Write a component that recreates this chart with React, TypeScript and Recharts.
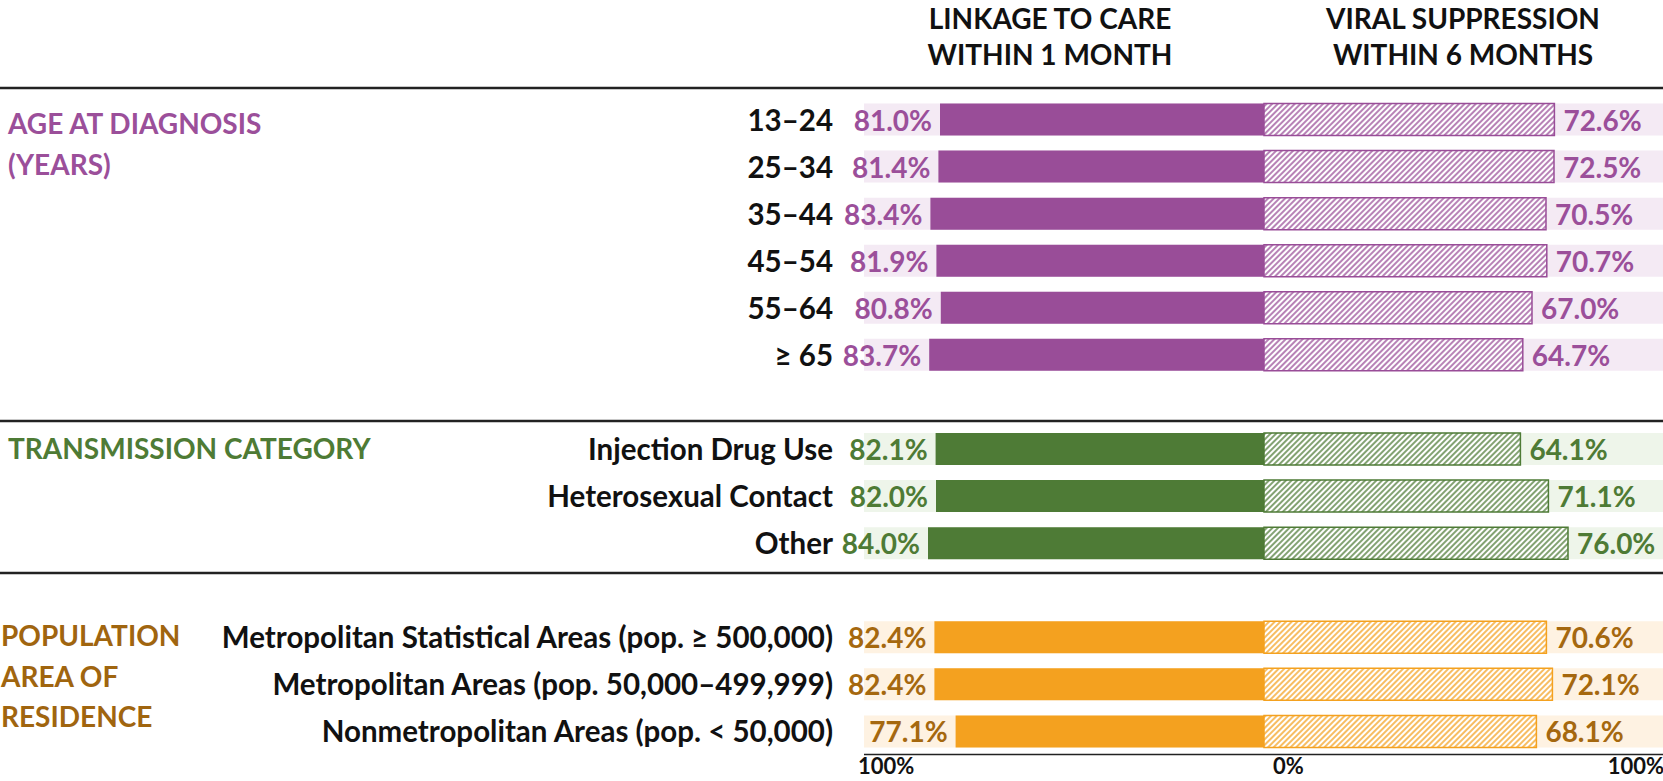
import { BarChart, Bar, XAxis, YAxis, Cell, LabelList } from "recharts";

// ---- data ----
const ageGroups = ["13–24", "25–34", "35–44", "45–54", "55–64", "≥ 65"];
const ageLinkage = [81.0, 81.4, 83.4, 81.9, 80.8, 83.7];
const ageSuppression = [72.6, 72.5, 70.5, 70.7, 67.0, 64.7];

const transmissionGroups = ["Injection Drug Use", "Heterosexual Contact", "Other"];
const transmissionLinkage = [82.1, 82.0, 84.0];
const transmissionSuppression = [64.1, 71.1, 76.0];

const areaGroups = [
  "Metropolitan Statistical Areas (pop. ≥ 500,000)",
  "Metropolitan Areas (pop. 50,000–499,999)",
  "Nonmetropolitan Areas (pop. < 50,000)",
];
const areaLinkage = [82.4, 82.4, 77.1];
const areaSuppression = [70.6, 72.1, 68.1];

const axisTicks = [-100, 0, 100];

const palettes = [
  { bar: "#994D98", band: "#F4EAF4", text: "#9B4F9A" },
  { bar: "#4E7B36", band: "#EEF5EA", text: "#4E7B35" },
  { bar: "#F4A11F", band: "#FEF2E2", text: "#A5680F" },
];

const FONT = "Lato, 'Open Sans', sans-serif";

interface Row {
  name: string;
  label: string;
  section: number;
  band: [number, number] | null;
  link: [number, number] | null;
  supp: [number, number] | null;
  linkLabel: string | null;
  suppLabel: string | null;
}

const sections = [
  { groups: ageGroups, link: ageLinkage, supp: ageSuppression },
  { groups: transmissionGroups, link: transmissionLinkage, supp: transmissionSuppression },
  { groups: areaGroups, link: areaLinkage, supp: areaSuppression },
];

// build one table, with an empty row between sections
// labels carry "section|text" so the label knows its colour
const rows: Row[] = [];
sections.forEach((s, si) => {
  if (si > 0) {
    rows.push({
      name: `gap${si}`,
      label: "",
      section: si,
      band: null,
      link: null,
      supp: null,
      linkLabel: null,
      suppLabel: null,
    });
  }
  s.groups.forEach((g, i) => {
    rows.push({
      name: g,
      label: g,
      section: si,
      band: [-100, 100],
      link: [-s.link[i], 0],
      supp: [0, s.supp[i]],
      linkLabel: `${si}|${s.link[i].toFixed(1)}%`,
      suppLabel: `${si}|${s.supp[i].toFixed(1)}%`,
    });
  });
});

const CategoryTick = (props: any) => {
  const { x, y, payload } = props;
  const row = rows.find((r) => r.name === payload.value);
  if (!row || !row.label) return null;
  return (
    <text
      x={x}
      y={y}
      textAnchor="end"
      dominantBaseline="central"
      fontFamily={FONT}
      fontWeight={700}
      fontSize={29.5}
      fill="#111"
    >
      {row.label}
    </text>
  );
};

const PercentTick = (props: any) => {
  const { x, y, payload } = props;
  const v = payload.value;
  let anchor: "start" | "end" = "start";
  let dx = -6;
  if (v === 0) dx = 9;
  if (v > 0) {
    anchor = "end";
    dx = 0;
  }
  return (
    <text
      x={x + dx}
      y={y}
      dy={17}
      textAnchor={anchor}
      fontFamily={FONT}
      fontWeight={700}
      fontSize={22}
      fill="#111"
    >
      {`${Math.abs(v)}%`}
    </text>
  );
};

const ValueLabel = (props: any) => {
  const { x, y, width, height, value, side } = props;
  if (value == null || typeof value !== "string") return null;
  const [sec, text] = value.split("|");
  const pal = palettes[Number(sec)] ?? palettes[0];
  const left = Math.min(x, x + width);
  const right = Math.max(x, x + width);
  const isLeft = side === "left";
  return (
    <text
      x={isLeft ? left - 8 : right + 9}
      y={y + height / 2}
      textAnchor={isLeft ? "end" : "start"}
      dominantBaseline="central"
      fontFamily={FONT}
      fontWeight={700}
      fontSize={28}
      fill={pal.text}
    >
      {text}
    </text>
  );
};

export default function App() {
  return (
    <div
      style={{
        position: "absolute",
        left: 0,
        top: 0,
        width: 1663,
        height: 781,
        overflow: "hidden",
        background: "#fff",
      }}
    >
      <BarChart
        width={1664}
        height={781}
        data={rows}
        layout="vertical"
        margin={{ top: 95.5, right: 0, bottom: 0, left: 0 }}
        barGap={-32}
        barCategoryGap={0}
      >
        <defs>
          {palettes.map((p, i) => (
            <pattern
              key={i}
              id={`hatch${i}`}
              patternUnits="userSpaceOnUse"
              width={4}
              height={4}
              patternTransform="rotate(45)"
            >
              <rect width={4} height={4} fill="#fff" />
              <line x1={1} y1={0} x2={1} y2={4} stroke={p.bar} strokeWidth={1.4} />
            </pattern>
          ))}
        </defs>

        <XAxis
          type="number"
          domain={[-100, 100]}
          ticks={axisTicks}
          height={26.5}
          axisLine={{ stroke: "#222", strokeWidth: 1.5 }}
          tickLine={false}
          tickSize={0}
          tickMargin={2}
          tick={<PercentTick />}
          interval={0}
        />
        <YAxis
          type="category"
          dataKey="name"
          width={864}
          axisLine={false}
          tickLine={false}
          tickSize={0}
          tickMargin={31}
          tick={<CategoryTick />}
          interval={0}
        />

        <Bar dataKey="band" barSize={32} isAnimationActive={false}>
          {rows.map((r, i) => (
            <Cell key={i} fill={palettes[r.section].band} />
          ))}
        </Bar>
        <Bar dataKey="link" barSize={32} isAnimationActive={false}>
          {rows.map((r, i) => (
            <Cell key={i} fill={palettes[r.section].bar} />
          ))}
          <LabelList dataKey="linkLabel" content={<ValueLabel side="left" />} />
        </Bar>
        <Bar dataKey="supp" barSize={32} isAnimationActive={false}>
          {rows.map((r, i) => (
            <Cell
              key={i}
              fill={`url(#hatch${r.section})`}
              stroke={palettes[r.section].bar}
              strokeWidth={1.5}
            />
          ))}
          <LabelList dataKey="suppLabel" content={<ValueLabel side="right" />} />
        </Bar>

        {/* column headers */}
        <g fontFamily={FONT} fontWeight={700} fontSize={28} fill="#111" textAnchor="middle">
          <text x={1050} y={29}>LINKAGE TO CARE</text>
          <text x={1050} y={65}>WITHIN 1 MONTH</text>
          <text x={1463} y={29}>VIRAL SUPPRESSION</text>
          <text x={1463} y={65}>WITHIN 6 MONTHS</text>
        </g>

        {/* section rules */}
        <g stroke="#222" strokeWidth={2.5}>
          <line x1={0} x2={1664} y1={88} y2={88} />
          <line x1={0} x2={1664} y1={421} y2={421} />
          <line x1={0} x2={1664} y1={573} y2={573} />
        </g>

        {/* section titles */}
        <g fontFamily={FONT} fontWeight={700} fontSize={28}>
          <text x={8} y={134} fill={palettes[0].text}>AGE AT DIAGNOSIS</text>
          <text x={8} y={175} fill={palettes[0].text}>(YEARS)</text>
          <text x={8} y={459} fill={palettes[1].text}>TRANSMISSION CATEGORY</text>
          <text x={1} y={646} fill="#A0650F">POPULATION</text>
          <text x={1} y={687} fill="#A0650F">AREA OF</text>
          <text x={1} y={727} fill="#A0650F">RESIDENCE</text>
        </g>
      </BarChart>
    </div>
  );
}
